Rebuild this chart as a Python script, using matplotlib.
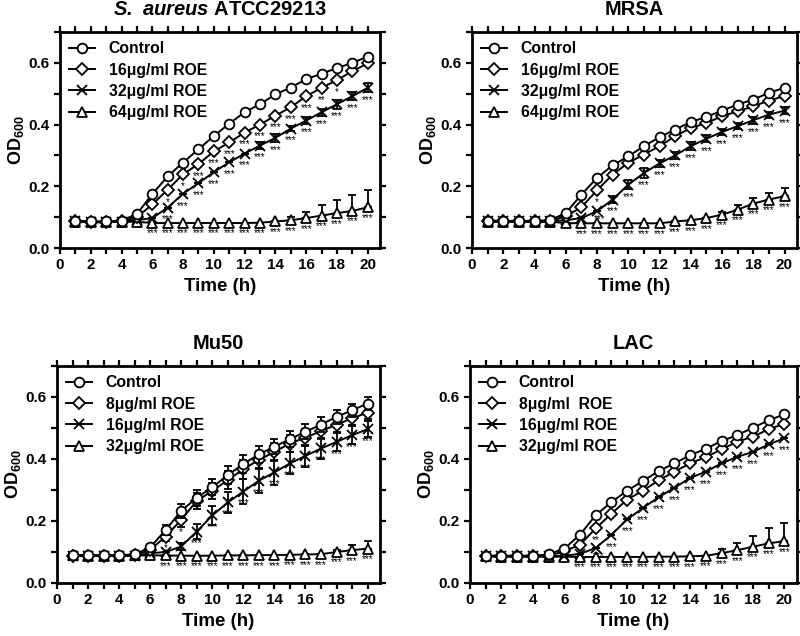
import matplotlib
matplotlib.use("Agg")
import matplotlib.pyplot as plt
from matplotlib.ticker import MultipleLocator

plt.rcParams["font.family"] = ["Liberation Sans", "DejaVu Sans"]
plt.rcParams["font.weight"] = "bold"
plt.rcParams["mathtext.fontset"] = "custom"
plt.rcParams["mathtext.rm"] = "Liberation Sans"
plt.rcParams["mathtext.bf"] = "Liberation Sans:bold"
plt.rcParams["mathtext.bfit"] = "Liberation Sans:italic:bold"

hours = list(range(1, 21))

# ----- S. aureus ATCC29213 -------------------------------------------------
atcc_ctrl = [0.089, 0.086, 0.086, 0.089, 0.110, 0.175, 0.232, 0.277, 0.320, 0.363,
             0.403, 0.440, 0.466, 0.498, 0.520, 0.547, 0.565, 0.583, 0.600, 0.620]
atcc_d1 = [0.086, 0.083, 0.083, 0.086, 0.100, 0.141, 0.189, 0.239, 0.272, 0.313,
           0.342, 0.374, 0.400, 0.429, 0.456, 0.492, 0.519, 0.544, 0.573, 0.598]
atcc_d2 = [0.086, 0.085, 0.085, 0.085, 0.090, 0.097, 0.131, 0.176, 0.210, 0.246,
           0.278, 0.306, 0.332, 0.357, 0.387, 0.413, 0.440, 0.466, 0.492, 0.519]
atcc_d3 = [0.085, 0.085, 0.085, 0.085, 0.085, 0.081, 0.081, 0.081, 0.081, 0.081,
           0.081, 0.081, 0.082, 0.086, 0.090, 0.097, 0.105, 0.113, 0.120, 0.132]
atcc_err_d2 = [0, 0, 0, 0, 0, 0, 0, 0, 0, 0,
               0, 0, 0.012, 0.012, 0.008, 0.012, 0.012, 0.015, 0.012, 0.015]
atcc_err_d3 = [0, 0, 0, 0, 0, 0, 0, 0, 0, 0,
               0, 0, 0, 0, 0.010, 0.020, 0.035, 0.043, 0.053, 0.055]
atcc_sig_d1 = ["", "", "", "", "", "", "*", "*", "***", "***",
               "***", "***", "***", "***", "***", "***", "**", "*", "", ""]
atcc_sig_d2 = ["", "", "", "", "", "", "***", "***", "***", "***",
               "***", "***", "***", "***", "***", "***", "***", "***", "***", "***"]
atcc_sig_d3 = ["", "", "", "", "", "***", "***", "***", "***", "***",
               "***", "***", "***", "***", "***", "***", "***", "***", "***", "***"]

# ----- MRSA -----------------------------------------------------------------
mrsa_ctrl = [0.089, 0.088, 0.088, 0.088, 0.090, 0.113, 0.173, 0.227, 0.268, 0.297,
             0.330, 0.359, 0.384, 0.408, 0.425, 0.445, 0.465, 0.481, 0.503, 0.519]
mrsa_d1 = [0.087, 0.086, 0.086, 0.086, 0.087, 0.103, 0.132, 0.187, 0.238, 0.276,
           0.303, 0.330, 0.362, 0.389, 0.405, 0.427, 0.443, 0.459, 0.478, 0.492]
mrsa_d2 = [0.087, 0.086, 0.086, 0.086, 0.087, 0.090, 0.097, 0.119, 0.157, 0.205,
           0.243, 0.274, 0.300, 0.330, 0.354, 0.376, 0.395, 0.414, 0.432, 0.445]
mrsa_d3 = [0.085, 0.084, 0.084, 0.084, 0.085, 0.081, 0.080, 0.080, 0.080, 0.080,
           0.080, 0.080, 0.086, 0.090, 0.097, 0.108, 0.124, 0.144, 0.157, 0.168]
mrsa_err_d2 = [0, 0, 0, 0, 0, 0, 0, 0, 0.012, 0.015,
               0.015, 0.012, 0.012, 0.012, 0.012, 0.010, 0.010, 0.012, 0.010, 0.012]
mrsa_err_d3 = [0, 0, 0, 0, 0, 0, 0, 0, 0, 0,
               0, 0, 0, 0, 0, 0.010, 0.016, 0.017, 0.020, 0.025]
mrsa_sig_d1 = ["", "", "", "", "", "", "*", "*", "", "",
               "", "", "", "", "", "", "", "", "", ""]
mrsa_sig_d2 = ["", "", "", "", "", "", "", "***", "***", "***",
               "***", "***", "***", "***", "***", "***", "***", "***", "***", "***"]
mrsa_sig_d3 = ["", "", "", "", "", "", "***", "***", "***", "***",
               "***", "***", "***", "***", "***", "***", "***", "***", "***", "***"]

# ----- Mu50 -----------------------------------------------------------------
mu50_ctrl = [0.091, 0.090, 0.090, 0.090, 0.092, 0.115, 0.171, 0.233, 0.275, 0.309,
             0.348, 0.384, 0.415, 0.440, 0.464, 0.488, 0.511, 0.536, 0.557, 0.579]
mu50_d1 = [0.088, 0.087, 0.087, 0.087, 0.089, 0.107, 0.150, 0.204, 0.265, 0.297,
           0.332, 0.367, 0.397, 0.423, 0.450, 0.469, 0.490, 0.511, 0.531, 0.550]
mu50_d2 = [0.088, 0.087, 0.087, 0.087, 0.088, 0.096, 0.100, 0.118, 0.166, 0.218,
           0.260, 0.295, 0.330, 0.357, 0.386, 0.410, 0.434, 0.455, 0.477, 0.496]
mu50_d3 = [0.089, 0.088, 0.088, 0.088, 0.089, 0.089, 0.089, 0.088, 0.088, 0.088,
           0.089, 0.089, 0.090, 0.090, 0.091, 0.092, 0.093, 0.100, 0.106, 0.111]
mu50_err_ctrl = [0, 0, 0, 0, 0, 0.010, 0.015, 0.022, 0.025, 0.025,
                 0.030, 0.030, 0.028, 0.025, 0.025, 0.025, 0.025, 0.022, 0.020, 0.020]
mu50_err_d1 = [0, 0, 0, 0, 0, 0.010, 0.015, 0.022, 0.025, 0.025,
               0.030, 0.030, 0.030, 0.030, 0.028, 0.028, 0.025, 0.025, 0.022, 0.020]
mu50_err_d2 = [0, 0, 0, 0, 0, 0, 0, 0.010, 0.025, 0.030,
               0.035, 0.040, 0.040, 0.040, 0.035, 0.035, 0.035, 0.030, 0.030, 0.025]
mu50_err_d3 = [0, 0, 0, 0, 0, 0, 0, 0, 0, 0,
               0, 0, 0, 0, 0, 0, 0, 0.005, 0.015, 0.025]
mu50_sig_d1 = ["", "", "", "", "", "", "*", "*", "", "",
               "", "", "", "", "", "", "", "", "", ""]
mu50_sig_d2 = ["", "", "", "", "", "", "", "", "***", "***",
               "***", "***", "***", "***", "***", "***", "***", "***", "***", "***"]
mu50_sig_d3 = ["", "", "", "", "", "", "***", "***", "***", "***",
               "***", "***", "***", "***", "***", "***", "***", "***", "***", "***"]

# ----- LAC ------------------------------------------------------------------
lac_ctrl = [0.088, 0.088, 0.088, 0.088, 0.092, 0.111, 0.156, 0.219, 0.261, 0.298,
            0.329, 0.361, 0.386, 0.412, 0.433, 0.458, 0.477, 0.501, 0.525, 0.544]
lac_d1 = [0.087, 0.086, 0.086, 0.086, 0.088, 0.102, 0.124, 0.176, 0.224, 0.269,
          0.298, 0.331, 0.359, 0.386, 0.406, 0.431, 0.456, 0.472, 0.496, 0.514]
lac_d2 = [0.087, 0.086, 0.086, 0.086, 0.087, 0.088, 0.094, 0.113, 0.156, 0.205,
          0.242, 0.277, 0.307, 0.339, 0.359, 0.386, 0.407, 0.423, 0.447, 0.467]
lac_d3 = [0.086, 0.085, 0.085, 0.085, 0.085, 0.085, 0.084, 0.084, 0.084, 0.084,
          0.084, 0.085, 0.085, 0.086, 0.088, 0.096, 0.106, 0.117, 0.128, 0.135]
lac_err_d3 = [0, 0, 0, 0, 0, 0, 0, 0, 0, 0,
              0, 0, 0, 0, 0, 0.014, 0.024, 0.035, 0.048, 0.060]
lac_sig_d1 = ["", "", "", "", "", "", "", "**", "", "",
              "", "", "", "", "", "", "", "", "", ""]
lac_sig_d2 = ["", "", "", "", "", "", "", "***", "***", "***",
              "***", "***", "***", "***", "***", "***", "***", "***", "***", "***"]
lac_sig_d3 = ["", "", "", "", "", "", "***", "***", "***", "***",
              "***", "***", "***", "***", "***", "***", "***", "***", "***", "***"]

zeros = [0] * 20

panels = [
    dict(title=r"$\mathbfit{S.\;aureus}$ ATCC29213",
         labels=["Control", "16\u03bcg/ml ROE", "32\u03bcg/ml ROE", "64\u03bcg/ml ROE"],
         series=[atcc_ctrl, atcc_d1, atcc_d2, atcc_d3],
         errs=[(zeros, zeros), (zeros, zeros), (atcc_err_d2, atcc_err_d2), (zeros, atcc_err_d3)],
         sigs=[None, atcc_sig_d1, atcc_sig_d2, atcc_sig_d3],
         rect=(60, 380, 32, 248)),
    dict(title="MRSA",
         labels=["Control", "16\u03bcg/ml ROE", "32\u03bcg/ml ROE", "64\u03bcg/ml ROE"],
         series=[mrsa_ctrl, mrsa_d1, mrsa_d2, mrsa_d3],
         errs=[(zeros, zeros), (zeros, zeros), (mrsa_err_d2, mrsa_err_d2), (zeros, mrsa_err_d3)],
         sigs=[None, mrsa_sig_d1, mrsa_sig_d2, mrsa_sig_d3],
         rect=(472, 797, 32, 248)),
    dict(title="Mu50",
         labels=["Control", "8\u03bcg/ml ROE", "16\u03bcg/ml ROE", "32\u03bcg/ml ROE"],
         series=[mu50_ctrl, mu50_d1, mu50_d2, mu50_d3],
         errs=[(mu50_err_ctrl, mu50_err_ctrl), (mu50_err_d1, mu50_err_d1),
               (mu50_err_d2, mu50_err_d2), (zeros, mu50_err_d3)],
         sigs=[None, mu50_sig_d1, mu50_sig_d2, mu50_sig_d3],
         rect=(57, 380, 366, 583)),
    dict(title="LAC",
         labels=["Control", "8\u03bcg/ml  ROE", "16\u03bcg/ml ROE", "32\u03bcg/ml ROE"],
         series=[lac_ctrl, lac_d1, lac_d2, lac_d3],
         errs=[(zeros, zeros), (zeros, zeros), (zeros, zeros), (zeros, lac_err_d3)],
         sigs=[None, lac_sig_d1, lac_sig_d2, lac_sig_d3],
         rect=(470, 797, 366, 583)),
]

markers = ["o", "D", "x", "^"]
msizes = [7, 6.5, 7, 7.5]
sig_offsets = [0, 5, 5, 4]

W, H = 800, 636
fig = plt.figure(figsize=(W / 100, H / 100), dpi=100)

for p in panels:
    x0, x1, y0, y1 = p["rect"]
    ax = fig.add_axes([x0 / W, 1 - y1 / H, (x1 - x0) / W, (y1 - y0) / H])
    handles = []
    lowest = p["series"][3]
    for i, (vals, (lo, hi), lab) in enumerate(zip(p["series"], p["errs"], p["labels"])):
        z = 3 + (3 - i)
        ax.errorbar(hours, vals, yerr=[lo, hi], fmt="none", ecolor="black",
                    elinewidth=1.3, capsize=3, capthick=1.3, zorder=z)
        line, = ax.plot(hours, vals, color="black", lw=1.4,
                        marker=markers[i], ms=msizes[i], mfc="white", mec="black",
                        mew=1.3, label=lab, zorder=z)
        handles.append(line)
        sig = p["sigs"][i]
        if sig is None:
            continue
        for h, v, s, vlow in zip(hours, vals, sig, lowest):
            if not s:
                continue
            # stars crowding the lowest curve sit closer to their point
            if i < 3 and v - vlow < 0.045:
                off = (2, -2)
            else:
                off = (0, -sig_offsets[i])
            ax.annotate(s, (h, v), xytext=off,
                        textcoords="offset points", ha="center", va="top",
                        fontsize=7, fontweight="normal", zorder=2)

    ax.set_xlim(0, 20.8)
    ax.set_ylim(0, 0.7)
    ax.xaxis.set_major_locator(MultipleLocator(2))
    ax.xaxis.set_minor_locator(MultipleLocator(1))
    ax.yaxis.set_major_locator(MultipleLocator(0.2))
    ax.yaxis.set_minor_locator(MultipleLocator(0.1))
    ax.yaxis.set_major_formatter(plt.FuncFormatter(lambda v, _: f"{v:.1f}"))
    for s in ax.spines.values():
        s.set_linewidth(2)
    ax.tick_params(which="both", direction="out", length=4, width=1.6,
                   top=True, right=True, labelsize=11)
    ax.set_xlabel("Time (h)", fontsize=13.5, fontweight="bold", labelpad=4)
    ax.set_ylabel(r"OD$_{600}$", fontsize=13, fontweight="bold", labelpad=2)
    ax.set_title(p["title"], fontsize=14.5, fontweight="bold", pad=12)
    ax.legend(handles=handles, loc="upper left", frameon=False, handlelength=1.6,
              handletextpad=0.9, labelspacing=0.4, borderaxespad=0.3,
              borderpad=0.3, prop={"weight": "bold", "size": 11.3})

fig.savefig("out.png", dpi=100)
